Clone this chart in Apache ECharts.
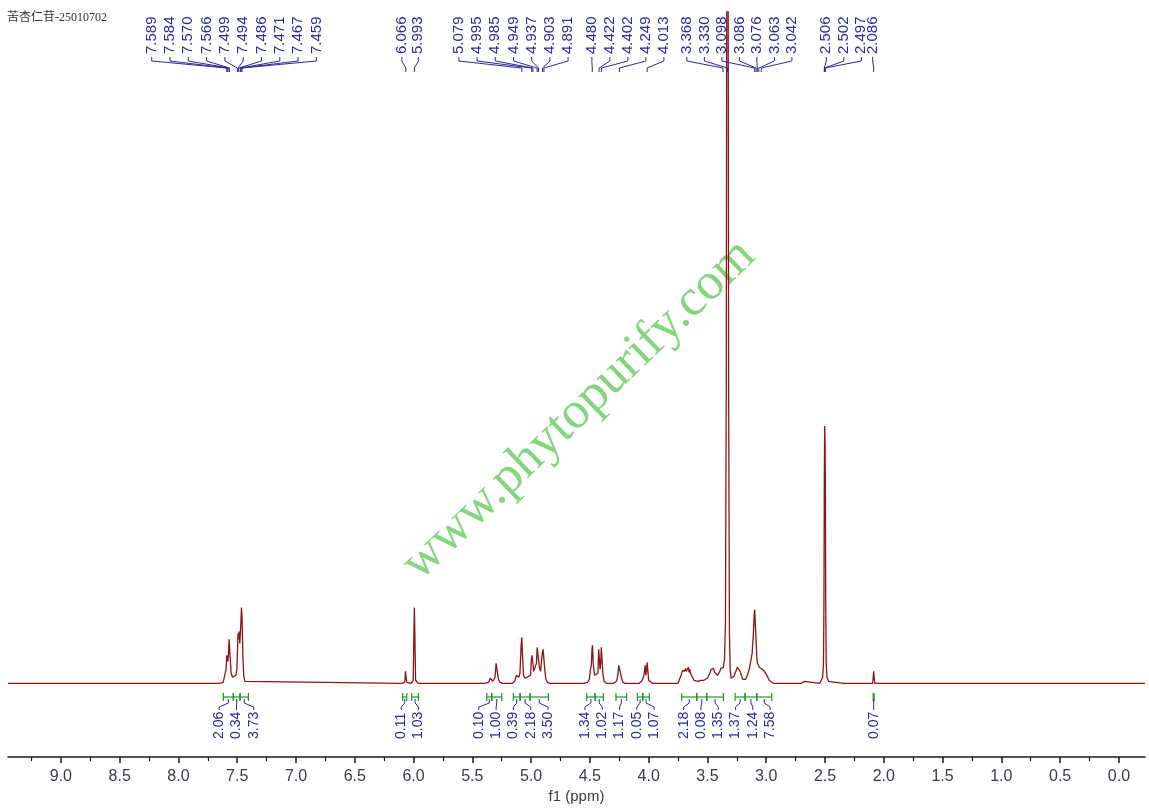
<!DOCTYPE html>
<html>
<head>
<meta charset="utf-8">
<script src="https://cdn.jsdelivr.net/npm/echarts@6/dist/echarts.min.js"></script>
<style>html,body{margin:0;padding:0;background:#fff}#c{width:1149px;height:809px}</style>
</head>
<body>
<div id="c"></div>
<script>
// ---------------- data ----------------
const titleText = '苦杏仁苷-25010702';
const axisName = 'f1 (ppm)';
const majorTicks = [0,0.5,1,1.5,2,2.5,3,3.5,4,4.5,5,5.5,6,6.5,7,7.5,8,8.5,9];
const minorTicks = [0.25,0.75,1.25,1.75,2.25,2.75,3.25,3.75,4.25,4.75,5.25,5.75,6.25,6.75,7.25,7.75,8.25,8.75,9.25];

// spectrum trace: [ppm, intensity]
const spectrum = [
  [9.45,0],[7.65,0],[7.62,1],[7.603,3],[7.595,14],[7.589,28],[7.585,30],[7.580,22],[7.574,30],[7.569,44],[7.565,46],[7.560,26],[7.552,10],[7.54,6],[7.525,5],[7.512,8],[7.503,14],[7.498,34],[7.493,50],[7.488,44],[7.484,52],[7.478,40],[7.470,58],[7.464,76],[7.459,66],[7.452,28],[7.445,8],[7.435,2],[7.42,0],
  [6.10,0],[6.075,1],[6.069,12],[6.063,12],[6.058,1],[6.02,0],[6.003,3],[5.997,50],[5.993,76],[5.989,50],[5.983,3],[5.96,0],
  [5.40,0],[5.36,1],[5.348,5],[5.338,5],[5.325,2],[5.307,6],[5.298,20],[5.292,22],[5.286,18],[5.278,4],[5.265,1],[5.24,0],
  [5.16,0],[5.14,2],[5.125,8],[5.115,9],[5.105,6],[5.095,10],[5.085,38],[5.079,46],[5.074,30],[5.065,8],[5.05,5],[5.035,5],
  [5.005,8],[4.998,24],[4.992,28],[4.986,26],[4.978,12],[4.970,10],
  [4.955,20],[4.948,36],[4.943,38],[4.937,36],[4.930,16],[4.92,12],
  [4.912,12],[4.905,30],[4.898,34],[4.891,32],[4.884,14],[4.875,4],[4.86,1],[4.84,0],
  [4.55,0],[4.52,1],[4.505,4],[4.495,14],[4.488,18],[4.482,34],[4.478,38],[4.472,20],[4.46,8],
  [4.432,10],[4.425,34],[4.420,36],[4.414,14],[4.408,20],[4.403,36],[4.398,34],[4.390,10],[4.38,2],[4.36,0],
  [4.30,0],[4.275,2],[4.262,8],[4.255,18],[4.249,20],[4.242,16],[4.232,6],[4.22,1],[4.20,0],
  [4.08,0],[4.06,2],[4.048,5],[4.038,10],[4.030,18],[4.024,8],[4.018,14],[4.013,21],[4.008,14],[4.0,3],[3.99,1],[3.97,0],
  [3.75,0],[3.735,2],[3.725,8],[3.718,10],[3.712,13],[3.705,11],[3.700,14],[3.693,12],[3.686,15],[3.680,12],[3.674,14],[3.668,12],[3.662,16],[3.656,11],[3.650,14],[3.644,10],[3.636,12],[3.628,6],[3.615,3],[3.600,2],[3.58,2],[3.56,3],[3.545,3],
  [3.53,3],[3.50,5],[3.48,10],[3.47,14],[3.462,16],[3.455,13],[3.448,15],[3.44,11],[3.43,9],[3.415,8],[3.405,10],[3.395,12],[3.385,15],[3.375,17],[3.365,16],[3.355,24],[3.347,60],[3.340,300],[3.335,800],[3.330,900],[3.325,800],[3.320,300],[3.313,50],[3.306,12],[3.298,5],[3.288,4],
  [3.275,7],[3.265,10],[3.255,13],[3.245,16],[3.238,15],[3.230,16],[3.222,12],[3.212,8],[3.200,4],[3.185,3],[3.175,4],[3.160,8],[3.145,14],[3.132,22],[3.120,30],[3.110,48],[3.102,70],[3.098,74],[3.093,60],[3.086,42],[3.080,26],[3.074,20],[3.066,19],[3.058,16],[3.050,17],[3.042,15],[3.034,14],[3.025,12],[3.015,12],[3.005,10],[2.995,8],[2.985,6],[2.975,3],[2.960,1],[2.94,0],
  [2.70,0],[2.685,2],[2.675,2],[2.66,0],
  [2.545,0],[2.53,2],[2.52,6],[2.513,20],[2.509,80],[2.506,200],[2.503,258],[2.502,260],[2.499,240],[2.497,200],[2.494,80],[2.490,20],[2.483,6],[2.47,2],[2.455,0],
  [2.345,0],[2.335,2],[2.325,0],
  [2.095,0],[2.090,6],[2.086,12],[2.082,6],[2.077,0],
  [-0.222,0]
];

// peak picking labels, grouped by multiplet
const peakGroups = [
  [7.589,7.584,7.570,7.566,7.499,7.494,7.486,7.471,7.467,7.459],
  [6.066,5.993],
  [5.079,4.995,4.985,4.949,4.937,4.903,4.891],
  [4.480,4.422,4.402,4.249,4.013],
  [3.368,3.330,3.098,3.086,3.076,3.063,3.042],
  [2.506,2.502,2.497],
  [2.086]
];

// integration regions
const intFrom  = [7.618,7.533,7.476,6.092,6.015,5.377,5.335,5.151,5.094,5.009,4.527,4.456,4.278,4.096,4.050,3.719,3.591,3.506,3.265,3.180,3.080,2.090];
const intTo    = [7.533,7.476,7.405,6.058,5.959,5.335,5.250,5.094,5.009,4.853,4.456,4.385,4.187,4.050,3.994,3.591,3.506,3.364,3.180,3.080,2.953,2.082];
const intValue = [2.06,0.34,3.73,0.11,1.03,0.10,1.00,0.39,2.18,3.50,1.34,1.02,1.17,0.05,1.07,2.18,0.08,1.35,1.37,1.24,7.58,0.07];

// ---------------- layout / style ----------------
const BLUE = '#2a2a98', GREEN = '#1d9a1d', RED = '#8c1515';
const groupShift = [-1, 0, -22, 16, -9, 19, -1];
const groupSpacing = [18.3, 16.5, 18.2, 18, 17.5, 17.5, 0];

function peakLayout(api){
  const out = [];
  peakGroups.forEach((g, gi) => {
    const xs = g.map(v => api.coord([v, 0])[0]);
    const mean = xs.reduce((a,b)=>a+b,0)/xs.length;
    const n = g.length;
    xs.forEach((x, i) => out.push({v: g[i], px: x, lx: mean + groupShift[gi] + (i-(n-1)/2)*groupSpacing[gi]}));
  });
  return out;
}

function intLayout(api){
  const sp = 17.3;
  const items = intValue.map((v,i) => {
    const a = api.coord([intFrom[i],0])[0], b = api.coord([intTo[i],0])[0];
    return {i, x1: Math.min(a,b), x2: Math.max(a,b), c: (a+b)/2};
  });
  items.sort((p,q)=>p.c-q.c);
  let clusters = items.map(it => ({items:[it]}));
  const place = cl => {
    const m = cl.items.reduce((s,it)=>s+it.c,0)/cl.items.length;
    const n = cl.items.length;
    cl.items.forEach((it,k)=>{ it.lx = m + (k-(n-1)/2)*sp; });
    cl.start = cl.items[0].lx; cl.end = cl.items[n-1].lx;
  };
  clusters.forEach(place);
  let changed = true;
  while (changed) {
    changed = false;
    for (let k = 0; k < clusters.length-1; k++) {
      if (clusters[k].end + sp > clusters[k+1].start + 0.01) {
        const merged = {items: clusters[k].items.concat(clusters[k+1].items)};
        place(merged);
        clusters.splice(k, 2, merged);
        changed = true; break;
      }
    }
  }
  const res = [];
  items.forEach(it => res[it.i] = it);
  return res;
}

const chart = echarts.init(document.getElementById('c'), null, {renderer:'canvas'});

const peakData = [];
peakGroups.forEach(g => g.forEach(v => peakData.push([v, 0])));

const option = {
  animation: false,
  backgroundColor: '#fff',
  grid: {left: 8, right: 4, top: 12, bottom: 50},
  xAxis: [{
    type: 'value', min: -0.222, max: 9.45, inverse: true, position: 'bottom', offset: 0,
    splitLine: {show: false},
    axisLine: {show: true, onZero: false, lineStyle: {color: '#1a1a1a', width: 1.5}},
    axisTick: {show: true, length: 6, lineStyle: {color: '#1a1a1a', width: 1.5}, customValues: majorTicks},
    axisLabel: {show: true, customValues: majorTicks, margin: 11, color: '#3a3a4a', fontSize: 16,
      fontFamily: 'Liberation Sans, Arial, sans-serif', formatter: v => Number(v).toFixed(1)},
    name: axisName, nameLocation: 'middle', nameGap: 36,
    nameTextStyle: {color: '#3a3a4a', fontSize: 15, fontFamily: 'Liberation Sans, Arial, sans-serif', verticalAlign: 'middle'}
  }, {
    type: 'value', min: -0.222, max: 9.45, inverse: true, position: 'bottom', offset: 0,
    splitLine: {show: false},
    axisLine: {show: false, onZero: false},
    axisTick: {show: true, length: 4, lineStyle: {color: '#1a1a1a', width: 1.2}, customValues: minorTicks},
    axisLabel: {show: false}
  }],
  yAxis: {type: 'value', min: -74, max: 673, show: false, splitLine: {show: false}},
  graphic: [
    {type: 'text', x: 7, y: 18, z: 10, style: {text: titleText, fill: '#333', font: 'normal 12px "Liberation Serif", "Noto Sans CJK SC", serif', verticalAlign: 'middle'}},
    {type: 'text', x: 579, y: 410, z: -1, rotation: Math.PI/4 - 0.02,
      style: {text: 'www.phytopurify.com', fill: 'rgba(112,206,104,0.85)', font: 'normal 52px "Liberation Serif", serif', align: 'center', verticalAlign: 'middle'}}
  ],
  series: [
    {
      type: 'line', name: 'spectrum', data: spectrum, showSymbol: false, symbol: 'none',
      clip: true, lineStyle: {color: RED, width: 1.3}, z: 3
    },
    {
      type: 'custom', name: 'peaks', data: peakData, z: 4, clip: false,
      renderItem: function(params, api){
        const lay = peakLayout(api)[params.dataIndex];
        return {
          type: 'group',
          children: [
            {type: 'text', x: lay.lx, y: 54, rotation: Math.PI/2,
              style: {text: lay.v.toFixed(3), fill: BLUE, fontSize: 15, fontFamily: 'Liberation Sans, Arial, sans-serif', align: 'left', verticalAlign: 'middle'}},
            {type: 'polyline', shape: {points: [[lay.lx,57],[lay.lx,61],[lay.px,68],[lay.px,72]]},
              style: {stroke: BLUE, lineWidth: 1, fill: null}}
          ]
        };
      }
    },
    {
      type: 'custom', name: 'integrals', data: intValue.map((v,i)=>[intFrom[i], 0]), z: 4, clip: false,
      renderItem: function(params, api){
        const it = intLayout(api)[params.dataIndex];
        return {
          type: 'group',
          children: [
            {type: 'polyline', shape: {points: [[it.x1,697],[it.x2,697]]}, style: {stroke: GREEN, lineWidth: 1.2, fill: null}},
            {type: 'line', shape: {x1: it.x1, y1: 693, x2: it.x1, y2: 701}, style: {stroke: GREEN, lineWidth: 1.2}},
            {type: 'line', shape: {x1: it.x2, y1: 693, x2: it.x2, y2: 701}, style: {stroke: GREEN, lineWidth: 1.2}},
            {type: 'polyline', shape: {points: [[it.c,699],[it.c,703],[it.lx,707],[it.lx,710]]}, style: {stroke: BLUE, lineWidth: 1, fill: null}},
            {type: 'text', x: it.lx, y: 739, rotation: Math.PI/2,
              style: {text: intValue[params.dataIndex].toFixed(2), fill: BLUE, fontSize: 14, fontFamily: 'Liberation Sans, Arial, sans-serif', align: 'left', verticalAlign: 'middle'}}
          ]
        };
      }
    }
  ]
};
chart.setOption(option);
</script>
</body>
</html>
